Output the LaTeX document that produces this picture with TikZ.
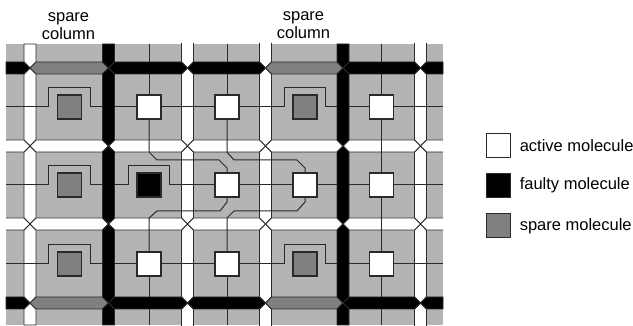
\documentclass[tikz,border=0pt]{standalone}
\usepackage{fontspec}
\setmainfont{Liberation Sans}
\usepackage{xcolor}
\usepackage{tikz}
\usetikzlibrary{positioning,calc}
\definecolor{cellgray}{HTML}{B4B4B4}
\definecolor{sparegray}{HTML}{808080}
\definecolor{edgegray}{HTML}{2A2A2A}
\pgfdeclarelayer{chan}
\pgfdeclarelayer{wire}
\pgfdeclarelayer{trunk}
\pgfsetlayers{chan,wire,trunk,main}

% hexagonal channel pieces, ends pointed at the crossings
\newcommand{\hseg}[4]{% colour, x from, x to, y
  \path[chanedge, fill=#1] (#2,#4) -- (#2+6,#4-6) -- (#3-6,#4-6) -- (#3,#4)
    -- (#3-6,#4+6) -- (#2+6,#4+6) -- cycle;}
\newcommand{\vseg}[4]{% colour, y from, y to, x
  \path[chanedge, fill=#1] (#4,#2) -- (#4+6,#2+6) -- (#4+6,#3-6) -- (#4,#3)
    -- (#4-6,#3-6) -- (#4-6,#2+6) -- cycle;}

\begin{document}
\begin{tikzpicture}[
  x=1pt, y=-1pt,
  every node/.style={font=\fontsize{16.5}{17.5}\selectfont},
  chanedge/.style={draw=edgegray, line width=0.9pt},
  mol/.style={draw=edgegray, line width=1.2pt, minimum size=24pt, inner sep=0pt},
  active/.style={mol, fill=white},
  faulty/.style={mol, fill=black},
  spare/.style={mol, fill=sparegray},
  wireln/.style={draw=edgegray, line width=1pt},
  legtext/.style={anchor=west, inner sep=0pt},
  hdr/.style={align=center, inner sep=0pt}
]
\useasboundingbox (0,0) rectangle (633,326);

%% ---- Molecules ---------------------------------------------------
\node[spare]  (m11) at (69.5,107) {};
\node[active] (m21) at (149,107) {};
\node[active] (m31) at (227,107) {};
\node[spare]  (m41) at (305,107) {};
\node[active] (m51) at (381.5,107) {};
\node[spare]  (m12) at (69.5,185) {};
\node[faulty] (m22) at (149,185) {};
\node[active] (m32) at (227,185) {};
\node[active] (m42) at (305,185) {};
\node[active] (m52) at (381.5,185) {};
\node[spare]  (m13) at (69.5,264) {};
\node[active] (m23) at (149,264) {};
\node[active] (m33) at (227,264) {};
\node[spare]  (m43) at (305,264) {};
\node[active] (m53) at (381.5,264) {};

%% ---- Free wire ends ----------------------------------------------
\foreach \row/\ypos in {1/107,2/185,3/264}{
  \coordinate (wl\row) at (6,\ypos);
  \coordinate (wr\row) at (443,\ypos);
}
\foreach \col/\xpos in {2/149,3/227,5/381.5}{
  \coordinate (wt\col) at (\xpos,44);
  \coordinate (wb\col) at (\xpos,325);
}

%% ---- Cell field and white channels, under the wires --------------
\begin{pgfonlayer}{chan}
  \fill[cellgray] (6,44) rectangle (443,325);
  \foreach \xpos in {30,187.5,265.5,420.5}{
    \vseg{white}{68}{146}{\xpos}
    \vseg{white}{146}{224}{\xpos}
    \vseg{white}{224}{303}{\xpos}
  }
  \foreach \ypos in {146,224}{
    \foreach \xa/\xb in {30/108.5,108.5/187.5,187.5/265.5,265.5/343,343/420.5}{
      \hseg{white}{\xa}{\xb}{\ypos}
    }
    \path[chanedge, fill=white] (6,\ypos-6) -- (24,\ypos-6) -- (30,\ypos) -- (24,\ypos+6) -- (6,\ypos+6);
    \path[chanedge, fill=white] (443,\ypos-6) -- (426.5,\ypos-6) -- (420.5,\ypos) -- (426.5,\ypos+6) -- (443,\ypos+6);
  }
  % only the first channel is closed at the ends
  \foreach \xpos in {187.5,265.5,420.5}{
    \fill[white] (\xpos-6,43) rectangle (\xpos+6,62);
    \fill[white] (\xpos-6,326) rectangle (\xpos+6,309);
    \path[chanedge, fill=white] (\xpos-6,43) -- (\xpos-6,62) -- (\xpos,68) -- (\xpos+6,62) -- (\xpos+6,43);
    \path[chanedge, fill=white] (\xpos-6,326) -- (\xpos-6,309) -- (\xpos,303) -- (\xpos+6,309) -- (\xpos+6,326);
  }
  \path[chanedge, fill=white] (24,44) -- (36,44) -- (36,62) -- (30,68) -- (24,62) -- cycle;
  \path[chanedge, fill=white] (24,325) -- (36,325) -- (36,309) -- (30,303) -- (24,309) -- cycle;
\end{pgfonlayer}

%% ---- Wires -------------------------------------------------------
\begin{pgfonlayer}{wire}
  % rows, going round the spares
  \foreach \row in {1,3}{
    \draw[wireln] (wl\row) -| ($(m1\row.north west)+(-8,-7)$) -| ($(m1\row.north east)+(8,-7)$)
      |- (m2\row.west);
  }
  \draw[wireln] (wl2) -| ($(m12.north west)+(-8,-7)$) -| ($(m12.north east)+(8,-7)$)
      |- ($(m22.west)+(-8,0)$) -- ($(m22.north west)+(-8,-7)$)
      -| ($(m22.north east)+(8,-7)$) |- (m32.west);
  \draw[wireln] (m21) -- (m31);
  \draw[wireln] (m31) -| ($(m41.north west)+(-8,-7)$) -| ($(m41.north east)+(8,-7)$) |- (m51.west);
  \draw[wireln] (m51) -- (wr1);
  \draw[wireln] (m32) -- (m42);
  \draw[wireln] (m42) -- (m52);
  \draw[wireln] (m52) -- (wr2);
  \draw[wireln] (m23) -- (m33);
  \draw[wireln] (m33) -| ($(m43.north west)+(-8,-7)$) -| ($(m43.north east)+(8,-7)$) |- (m53.west);
  \draw[wireln] (m53) -- (wr3);
  % columns
  \draw[wireln] (wt2) -- (m21);
  \draw[wireln] (wt3) -- (m31);
  \draw[wireln] (wt5) -- (m51);
  \draw[wireln] (m51) -- (m52);
  \draw[wireln] (m52) -- (m53);
  \draw[wireln] (m53) -- (wb5);
  \draw[wireln] (m23) -- (wb2);
  \draw[wireln] (m33) -- (wb3);
  % detour round the faulty molecule
  \draw[wireln] (m21) -- (149,152) -- (157,160) -- (219,160) -- (227,168) -- (m32);
  \draw[wireln] (m31) -- (227,152) -- (234,160) -- (297,160) -- (305,168) -- (m42);
  \draw[wireln] (m32) -- (227,202) -- (220,211) -- (157,211) -- (149,218) -- (m23);
  \draw[wireln] (m42) -- (305,202) -- (297,211) -- (234,211) -- (227,218) -- (m33);
\end{pgfonlayer}

%% ---- Black and spare channels ------------------------------------
\begin{pgfonlayer}{trunk}
  \foreach \ypos in {68,303}{
    \path[chanedge, fill=black] (6,\ypos-6) -- (24,\ypos-6) -- (30,\ypos) -- (24,\ypos+6) -- (6,\ypos+6) -- cycle;
    \path[chanedge, fill=black] (443,\ypos-6) -- (426.5,\ypos-6) -- (420.5,\ypos) -- (426.5,\ypos+6) -- (443,\ypos+6) -- cycle;
    \hseg{sparegray}{30}{108.5}{\ypos}
    \hseg{black}{108.5}{187.5}{\ypos}
    \hseg{black}{187.5}{265.5}{\ypos}
    \hseg{sparegray}{265.5}{343}{\ypos}
    \hseg{black}{343}{420.5}{\ypos}
  }
  \foreach \xpos in {108.5,343}{
    \path[chanedge, fill=black] (\xpos-6,44) -- (\xpos+6,44) -- (\xpos+6,62) -- (\xpos,68) -- (\xpos-6,62) -- cycle;
    \vseg{black}{68}{146}{\xpos}
    \vseg{black}{146}{224}{\xpos}
    \vseg{black}{224}{303}{\xpos}
    \path[chanedge, fill=black] (\xpos-6,325) -- (\xpos+6,325) -- (\xpos+6,309) -- (\xpos,303) -- (\xpos-6,309) -- cycle;
  }
\end{pgfonlayer}

%% ---- Labels ------------------------------------------------------
\node[hdr] (lab1) at (68.5,26) {spare\\column};
\node[hdr] (lab2) at (303.5,25) {spare\\column};

%% ---- Legend ------------------------------------------------------
\node[active] (legA) at (498.5,145.5) {};
\node[faulty, below=15pt of legA] (legF) {};
\node[spare,  below=15pt of legF] (legS) {};
\node[legtext, right=8.5pt of legA] {active molecule};
\node[legtext, right=8.5pt of legF] {faulty molecule};
\node[legtext, right=8.5pt of legS] {spare molecule};

\end{tikzpicture}
\end{document}
